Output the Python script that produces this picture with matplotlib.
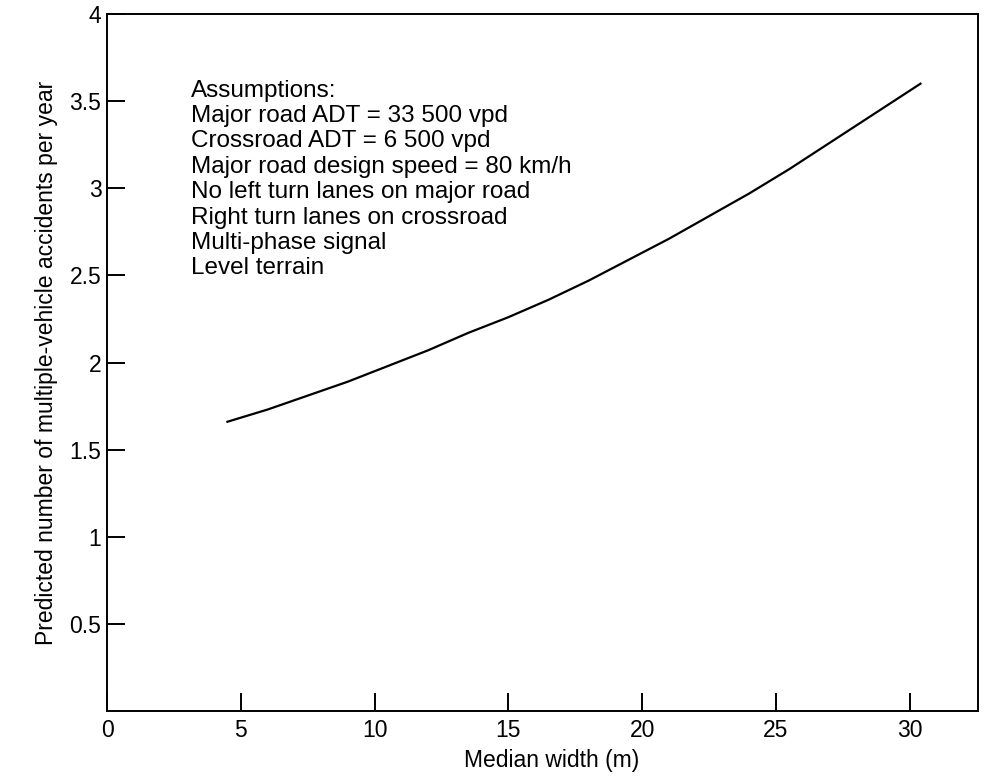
import numpy as np
import matplotlib
matplotlib.use('Agg')
import matplotlib.pyplot as plt

plt.rcParams['font.family'] = ['Liberation Sans', 'DejaVu Sans']

# Median width (m) and predicted multiple-vehicle accidents per year
width = [4.5, 6, 7.5, 9, 10.5, 12, 13.5, 15, 16.5, 18,
         19.5, 21, 22.5, 24, 25.5, 27, 28.5, 30.4]
accidents = [1.66, 1.73, 1.81, 1.89, 1.98, 2.07, 2.17, 2.26, 2.36, 2.47,
             2.59, 2.71, 2.84, 2.97, 3.11, 3.26, 3.41, 3.60]

x_ticks = [0, 5, 10, 15, 20, 25, 30]
y_ticks = [0.5, 1, 1.5, 2, 2.5, 3, 3.5, 4]
y_tick_labels = ['0.5', '1', '1.5', '2', '2.5', '3', '3.5', '4']

notes = ['Assumptions:',
         'Major road ADT = 33 500 vpd',
         'Crossroad ADT = 6 500 vpd',
         'Major road design speed = 80 km/h',
         'No left turn lanes on major road',
         'Right turn lanes on crossroad',
         'Multi-phase signal',
         'Level terrain']

fig = plt.figure(figsize=(9.86, 7.76), dpi=100)
ax = fig.add_axes([107 / 986, 1 - 711 / 776, 871 / 986, 697 / 776])

ax.plot(width, accidents, color='k', lw=1.6)

ax.set_xlim(0, 32.55)
ax.set_ylim(0, 4)
ax.set_xticks(x_ticks)
ax.set_yticks(y_ticks)
ax.set_yticklabels(y_tick_labels)
ax.tick_params(axis='both', direction='in', length=13, width=1.4,
               labelsize=16.5, colors='k')
ax.tick_params(axis='x', pad=6)
ax.tick_params(axis='y', pad=4)

for s in ax.spines.values():
    s.set_linewidth(1.4)

ax.text(3.15, 3.05, '\n'.join(notes), fontsize=17.5, va='center', ha='left',
        linespacing=1.2)

ax.set_xlabel('Median width (m)', fontsize=16.5, labelpad=6)
ax.set_ylabel('Predicted number of multiple-vehicle accidents per year',
              fontsize=16.5, labelpad=8)
ax.xaxis.set_label_coords(0.51, -0.055)

fig.savefig('out.png', dpi=100)
